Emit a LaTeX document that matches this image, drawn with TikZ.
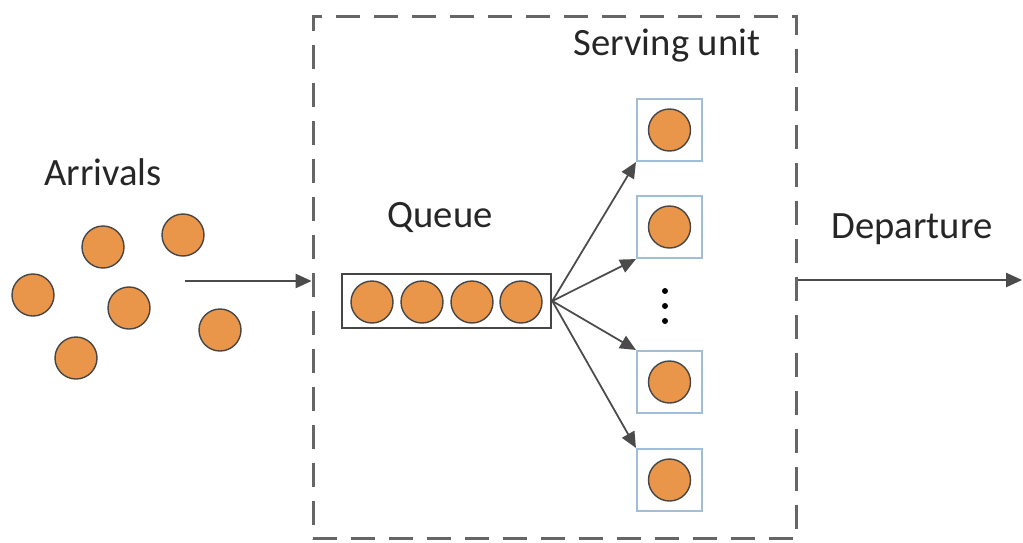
\documentclass[tikz,border=0pt]{standalone}
\usepackage{fontspec}
\setmainfont{Carlito}
\usepackage{tikz}
\usetikzlibrary{arrows.meta}

\definecolor{ballfill}{RGB}{234,150,74}
\definecolor{ballline}{RGB}{70,70,70}
\definecolor{serverline}{RGB}{160,190,218}
\definecolor{arrowgray}{RGB}{75,75,75}

\begin{document}
\begin{tikzpicture}[x=0.02cm, y=-0.02cm,
    ball/.style={circle, fill=ballfill, draw=ballline, line width=0.8pt, minimum size=0.84cm, inner sep=0pt},
    server/.style={rectangle, draw=serverline, line width=1.2pt, minimum width=1.3cm, minimum height=1.24cm, inner sep=0pt},
    lbl/.style={font=\fontsize{22}{26}\selectfont, text=black!85},
    arr/.style={draw=arrowgray, line width=1pt, -{Triangle[length=9pt, width=8pt]}}]
    \useasboundingbox (0,0) rectangle (1023,542);
    % serving unit frame
    \node[draw=black!60, line width=1.7pt, dash pattern=on 0.48cm off 0.28cm,
      minimum width=9.68cm, minimum height=10.46cm] (unit) at (555,277.5) {};
    \node[lbl] (unitlbl) at (667,46) {Serving unit};
    % arrivals
    \node[lbl] (arrlbl) at (103,172) {Arrivals};
    \node[ball] (a1) at (103,247) {};
    \node[ball] (a2) at (183,235) {};
    \node[ball] (a3) at (33,295) {};
    \node[ball] (a4) at (129,308) {};
    \node[ball] (a5) at (220,330) {};
    \node[ball] (a6) at (76,358) {};
    \coordinate (in) at (185,281);
    \draw[arr] (in) -- (unit.west |- in);
    % queue
    \node[lbl] (qlbl) at (440,218) {Queue};
    \node[draw=ballline, line width=1.5pt, minimum width=4.18cm, minimum height=1.08cm] (queue) at (446.5,301) {};
    \foreach \x [count=\i] in {372,422,472,521}
      \node[ball] (q\i) at (\x,302) {};
    % servers
    \foreach \y [count=\i] in {130,227,382,480} {
      \node[server] (s\i) at (669.5,\y) {};
      \node[ball] (b\i) at (s\i) {};
    }
    \foreach \y [count=\i] in {291,306,321}
      \node[circle, fill=black, inner sep=0pt, minimum size=0.12cm] (dot\i) at (665,\y) {};
    \draw[arr] (queue.east) -- (s1.south west);
    \draw[arr] (queue.east) -- (s2.south west);
    \draw[arr] (queue.east) -- (s3.north west);
    \draw[arr] (queue.east) -- (s4.north west);
    % departure
    \node[lbl] (deplbl) at (912,229) {Departure};
    \coordinate (out) at (1022,280);
    \draw[arr] (unit.east |- out) -- (out);
\end{tikzpicture}
\end{document}
